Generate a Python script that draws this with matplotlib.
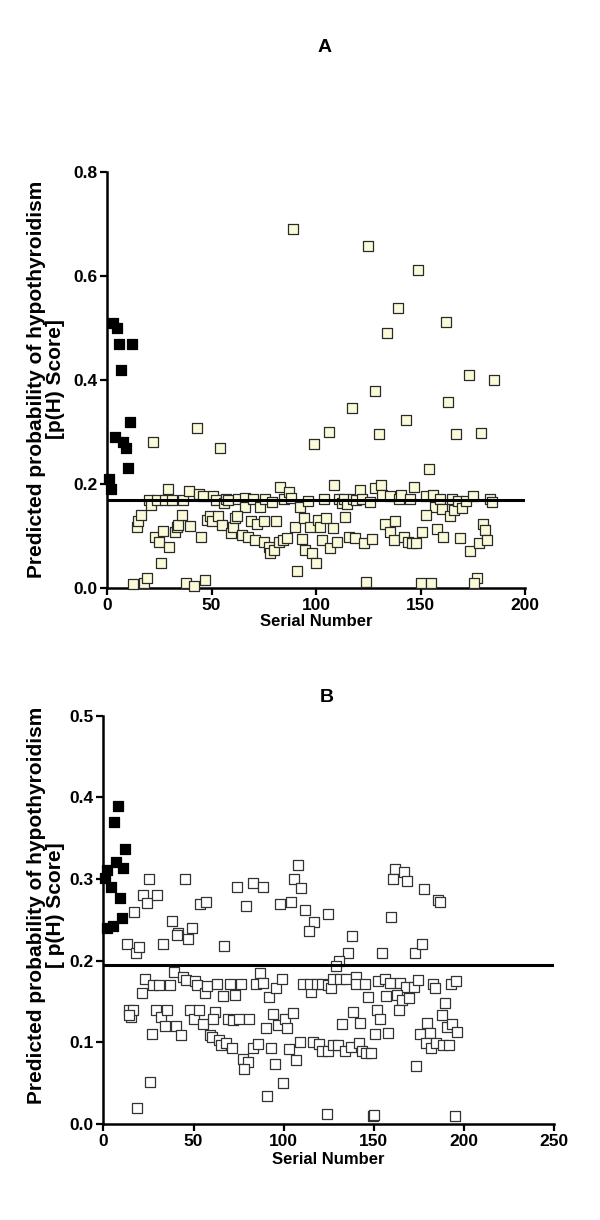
import matplotlib
matplotlib.use("Agg")
import matplotlib.pyplot as plt

plt.rcParams['font.family'] = ['Liberation Sans', 'DejaVu Sans']
plt.rcParams['font.weight'] = 'bold'

# ---------------- Panel A data ----------------
a_pos_x = [2.7, 5, 5.9, 12, 6.9, 10.9, 3.8, 7.8, 9.1, 10, 1, 1.9]
a_pos_y = [0.51, 0.50, 0.47, 0.47, 0.42, 0.32, 0.29, 0.28, 0.27, 0.23, 0.21, 0.19]

a_neg_x = [
    43, 21.9, 54, 89, 99, 125, 149, 139, 162, 134, 173, 185, 128, 117, 163, 143, 106, 130, 167, 179, 154, 108.8,
    12.6, 17.9, 19, 37.9, 41.8, 47, 90.9, 25.7, 124, 150, 155, 177, 175.7,
    20.3, 21, 24.1, 27.8, 29, 31, 36.6, 39, 43.8, 45.8, 50.9, 52.2, 56, 57, 58.1, 62.5, 66, 66, 69.8, 73,
    75.7, 79, 82.9, 84.5, 86.9, 88, 92.2, 96,
    14.2, 14.7, 16.1, 23, 25, 27, 29.9, 32.6, 33.4, 34.2, 35.8, 39.8, 44.9, 47.8, 49.4, 50.2, 52.9, 55,
    59.4, 60.2, 61.3, 62.1, 64.5, 67.7, 68.8, 71.7, 70.9, 74.9, 74.9, 77.3, 78.1, 79.7, 81, 82.1, 84.2,
    86.1, 90.1, 93.3, 94.1, 94.9, 97, 98.1, 100.1,
    104, 110.8, 112.4, 113.2, 114.8, 117.7, 119.3, 120.9, 122, 126, 128.4, 131.1, 131.6, 135.3, 139.6,
    140.7, 145.2, 147.1, 152.4, 156.1, 156.7, 159.2, 160.3, 164.3, 165.1, 165.9, 167.9, 169.9, 172, 175.2,
    183.2, 184.3,
    100.8, 101.7, 102.9, 104.9, 106.9, 108.1, 110.1, 114, 115.6, 118.8, 122.8, 126.8, 133.2, 135.6, 137.2,
    138, 142, 143.9, 146, 148, 150.8, 152.4, 158, 160.8, 169.1, 173.9, 177.9, 180, 181.1, 181.9,
]
a_neg_y = [
    0.308, 0.28, 0.27, 0.69, 0.277, 0.658, 0.611, 0.538, 0.511, 0.49, 0.41, 0.40, 0.378, 0.347, 0.358, 0.324,
    0.30, 0.296, 0.297, 0.299, 0.229, 0.198,
    0.008, 0.009, 0.02, 0.009, 0.003, 0.015, 0.033, 0.049, 0.011, 0.01, 0.009, 0.02, 0.009,
    0.169, 0.160, 0.169, 0.169, 0.19, 0.169, 0.169, 0.187, 0.181, 0.177, 0.176, 0.169, 0.163, 0.172, 0.169,
    0.172, 0.174, 0.156, 0.172, 0.156, 0.171, 0.166, 0.195, 0.172, 0.185, 0.174, 0.156, 0.168,
    0.117, 0.128, 0.140, 0.099, 0.089, 0.110, 0.079, 0.108, 0.117, 0.121, 0.140, 0.119, 0.099, 0.131, 0.138,
    0.128, 0.138, 0.122, 0.105, 0.117, 0.134, 0.138, 0.102, 0.099, 0.128, 0.124, 0.092, 0.129, 0.089, 0.079,
    0.067, 0.074, 0.129, 0.089, 0.092, 0.097, 0.118, 0.094, 0.134, 0.073, 0.117, 0.067, 0.049,
    0.171, 0.171, 0.163, 0.171, 0.162, 0.171, 0.169, 0.188, 0.172, 0.166, 0.192, 0.198, 0.179, 0.177, 0.172,
    0.179, 0.172, 0.195, 0.177, 0.179, 0.156, 0.172, 0.151, 0.138, 0.172, 0.150, 0.168, 0.153, 0.168, 0.177,
    0.172, 0.166,
    0.131, 0.117, 0.092, 0.134, 0.076, 0.115, 0.089, 0.136, 0.099, 0.097, 0.087, 0.095, 0.123, 0.108, 0.093,
    0.129, 0.099, 0.089, 0.087, 0.086, 0.108, 0.140, 0.113, 0.099, 0.097, 0.071, 0.086, 0.123, 0.111, 0.092,
]
a_cutoff = 0.17

# ---------------- Panel B data ----------------
b_pos_x = [7.9, 5.8, 11.9, 6.8, 11, 2.1, 0.8, 4, 9.2, 10.1, 5.1, 1.8]
b_pos_y = [0.389, 0.370, 0.337, 0.321, 0.313, 0.311, 0.301, 0.290, 0.277, 0.252, 0.242, 0.240]

b_neg_x = [
    25.1, 45.1, 21.8, 24, 29.9, 16.9, 37.8, 41.5, 40.6, 48.9, 53.6, 56.9, 73.9, 82.8, 88.7, 78.9, 97.9, 103.9,
    105.9, 107.9, 109.8, 111.8, 116.8, 114, 124.4,
    161.8, 166.8, 160.8, 168.8, 177.9, 185.8, 186.7, 159.9, 137.9,
    12.9, 18, 19.8, 32.8, 47.1, 66.9,
    135.9, 154.9, 172.9, 176.6, 130.9, 129,
    23.0, 21.2, 27.6, 31.0, 36.9, 39.1, 43.9, 45.8, 50.8, 52.1, 56.3, 57.6, 62.8, 66.1, 70.2, 73.0, 76.1,
    86.8, 84.6, 88.3, 92.0, 95.7, 98.9, 110.9, 115.0, 114.6, 118.3, 121.6, 124.8,
    14.3, 15.1, 16.2, 14.3, 29.1, 31.7, 35.4, 34.1, 40.2, 42.8, 26.7, 48.0, 50.2, 53.2, 55.0, 61.9, 60.9,
    59.1, 60.0, 64.3, 65.0, 68.0, 71.1, 69.3, 72.0, 75.4, 80.9, 90.2, 93.9, 97.0, 100.7, 102.0, 105.0,
    77.2, 80.4, 78.0, 83.1, 85.9, 92.8, 95.2, 103.1, 106.8, 109.1, 116.1, 119.8, 121.6, 124.8,
    25.8, 18.8, 99.8, 90.9, 123.9,
    126.1, 127.5, 131.6, 134.9, 140.1, 140.1, 145.1, 152.5, 156.2, 158.9, 164.9, 167.9, 172.3, 174.7, 182.7,
    183.9, 192.7, 195.6, 146.9, 156.8, 163.1, 166.0, 169.7, 151.9, 153.8, 164.2, 138.6, 132.7, 142.7, 150.7,
    158.0, 189.5, 187.7, 179.7, 190.5, 193.8, 196.4, 175.6, 181.2, 178.9, 182.1, 184.9, 188.6, 191.9,
    127.2, 130.3, 134.0, 137.2, 141.9, 143.8, 146.0, 148.3, 173.8, 149.4, 150.1, 195.1,
]
b_neg_y = [
    0.300, 0.300, 0.280, 0.271, 0.280, 0.260, 0.249, 0.234, 0.231, 0.240, 0.270, 0.272, 0.290, 0.295, 0.290,
    0.267, 0.269, 0.272, 0.300, 0.317, 0.289, 0.262, 0.247, 0.236, 0.257,
    0.312, 0.308, 0.300, 0.298, 0.288, 0.274, 0.272, 0.253, 0.230,
    0.220, 0.210, 0.217, 0.221, 0.227, 0.218,
    0.210, 0.210, 0.210, 0.220, 0.199, 0.193,
    0.177, 0.160, 0.170, 0.170, 0.170, 0.186, 0.180, 0.176, 0.175, 0.170, 0.161, 0.169, 0.172, 0.157, 0.171,
    0.158, 0.171, 0.185, 0.172, 0.173, 0.156, 0.167, 0.177, 0.172, 0.162, 0.172, 0.172, 0.172, 0.170,
    0.139, 0.131, 0.140, 0.133, 0.140, 0.131, 0.140, 0.120, 0.120, 0.109, 0.110, 0.140, 0.128, 0.140, 0.123,
    0.137, 0.129, 0.109, 0.106, 0.103, 0.097, 0.099, 0.093, 0.129, 0.127, 0.129, 0.129, 0.118, 0.135, 0.121,
    0.129, 0.118, 0.136,
    0.080, 0.076, 0.067, 0.093, 0.098, 0.093, 0.073, 0.092, 0.078, 0.100, 0.100, 0.098, 0.089, 0.089,
    0.051, 0.020, 0.050, 0.034, 0.012,
    0.167, 0.178, 0.177, 0.177, 0.180, 0.172, 0.172, 0.175, 0.177, 0.173, 0.173, 0.168, 0.168, 0.176, 0.172,
    0.167, 0.172, 0.175, 0.156, 0.157, 0.158, 0.152, 0.154, 0.140, 0.129, 0.140, 0.137, 0.123, 0.124, 0.110,
    0.112, 0.148, 0.133, 0.124, 0.119, 0.123, 0.113, 0.110, 0.112, 0.099, 0.093, 0.099, 0.097, 0.097,
    0.097, 0.097, 0.090, 0.094, 0.099, 0.090, 0.087, 0.087, 0.071, 0.010, 0.011, 0.010,
]
b_cutoff = 0.195

ylabel_a = "Predicted probability of hypothyroidism\n[p(H) Score]"
ylabel_b = "Predicted probability of hypothyroidism\n[ p(H) Score]"
xlabel = "Serial Number"

W, H = 600, 1220
fig = plt.figure(figsize=(W / 100, H / 100), dpi=100)

def px_axes(l, t, r, b):
    return fig.add_axes([l / W, 1 - b / H, (r - l) / W, (b - t) / H])

def style(ax):
    for s in ['top', 'right']:
        ax.spines[s].set_visible(False)
    for s in ['left', 'bottom']:
        ax.spines[s].set_linewidth(1.8)
    ax.tick_params(direction='out', length=5, width=1.6, labelsize=12.5, pad=2)
    for lab in ax.get_xticklabels() + ax.get_yticklabels():
        lab.set_fontweight('bold')

# Panel A
axA = px_axes(107, 172, 525, 588)
axA.scatter(a_neg_x, a_neg_y, marker='s', s=46, facecolor='#fbfbd9', edgecolor='#2a2a2a',
            linewidth=0.9, zorder=3, clip_on=False)
axA.scatter(a_pos_x, a_pos_y, marker='s', s=46, facecolor='black', edgecolor='black',
            linewidth=0.9, zorder=4, clip_on=False)
axA.plot([0, 200], [a_cutoff, a_cutoff], color='black', linewidth=2.2, zorder=5)
axA.set_xlim(0, 200)
axA.set_ylim(0, 0.8)
axA.set_xticks([0, 50, 100, 150, 200])
axA.set_yticks([0.0, 0.2, 0.4, 0.6, 0.8])
axA.set_yticklabels(['0.0', '0.2', '0.4', '0.6', '0.8'])
style(axA)
axA.set_xlabel(xlabel, fontsize=12, fontweight='bold', labelpad=1)

# Panel B
axB = px_axes(103.5, 715.7, 553.7, 1124)
axB.scatter(b_neg_x, b_neg_y, marker='s', s=46, facecolor='white', edgecolor='#333333',
            linewidth=0.9, zorder=3, clip_on=False)
axB.scatter(b_pos_x, b_pos_y, marker='s', s=46, facecolor='black', edgecolor='black',
            linewidth=0.9, zorder=4, clip_on=False)
axB.plot([0, 250], [b_cutoff, b_cutoff], color='black', linewidth=2.2, zorder=5)
axB.set_xlim(0, 250)
axB.set_ylim(0, 0.5)
axB.set_xticks([0, 50, 100, 150, 200, 250])
axB.set_yticks([0.0, 0.1, 0.2, 0.3, 0.4, 0.5])
axB.set_yticklabels(['0.0', '0.1', '0.2', '0.3', '0.4', '0.5'])
style(axB)
axB.set_xlabel(xlabel, fontsize=12, fontweight='bold', labelpad=2)

# Titles and y labels
fig.text(325 / W, 1 - 47 / H, "A", fontsize=14, fontweight='bold', ha='center', va='center')
fig.text(327 / W, 1 - 698 / H, "B", fontsize=14, fontweight='bold', ha='center', va='center')
fig.text(46 / W, 1 - 379 / H, ylabel_a, rotation=90, fontsize=15, fontweight='bold',
         ha='center', va='center', multialignment='center', linespacing=1.05)
fig.text(46 / W, 1 - 905 / H, ylabel_b, rotation=90, fontsize=15, fontweight='bold',
         ha='center', va='center', multialignment='center', linespacing=1.05)

fig.savefig("out.png", dpi=100, facecolor='white')
